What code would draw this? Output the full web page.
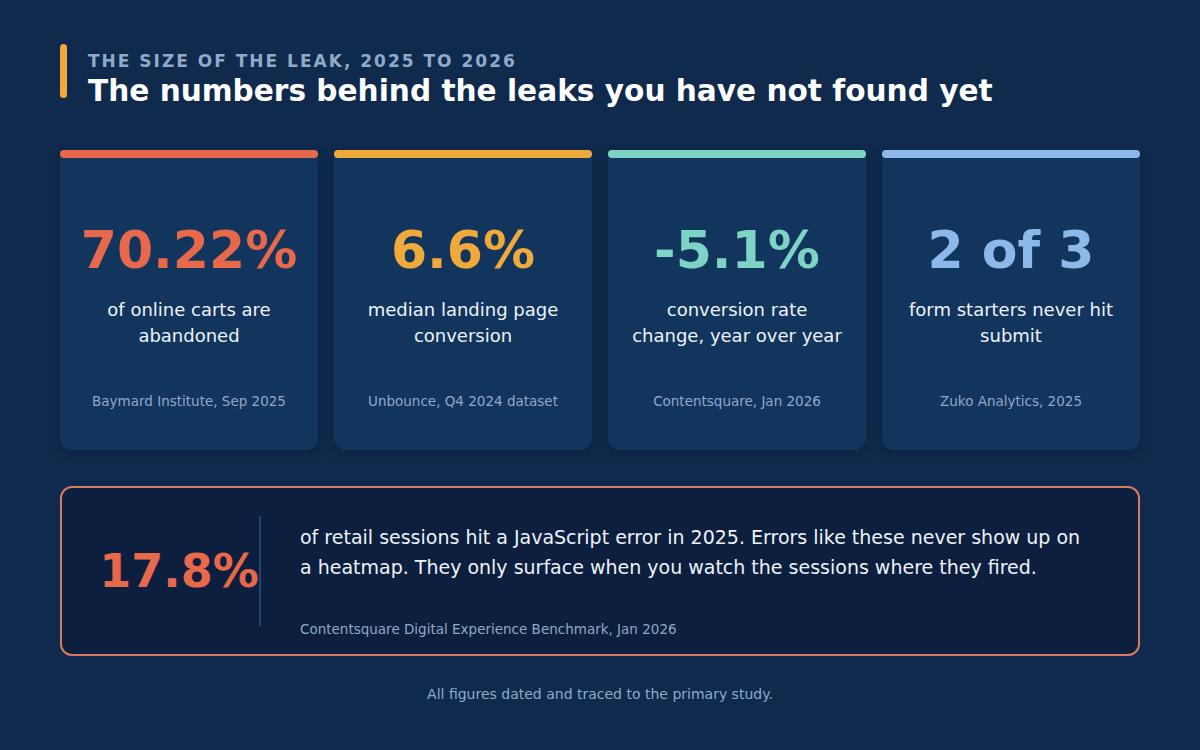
<!DOCTYPE html>
<html>
<head>
<meta charset="utf-8">
<script src="https://cdn.jsdelivr.net/npm/chart.js@4.4.1/dist/chart.umd.min.js"></script>
<style>
  html, body { margin: 0; padding: 0; }
  body {
    width: 1200px; height: 750px; overflow: hidden;
    background: #0f2a4d;
    font-family: "DejaVu Sans", sans-serif;
    color: #f2f5fa;
    position: relative;
  }
  .accent { position: absolute; left: 60px; top: 44px; width: 7px; height: 54px; border-radius: 4px; background: #f0a93b; }
  .kicker { position: absolute; left: 88px; top: 51px; font-size: 17px; font-weight: bold; letter-spacing: 2px; color: #8fa9c9; }
  .title { position: absolute; left: 88px; top: 74px; font-size: 29.6px; font-weight: bold; color: #ffffff; }
  .card {
    position: absolute; top: 150px; width: 258px; height: 300px;
    background: #12355e; border-radius: 6px 6px 12px 12px;
    box-shadow: 0 4px 14px rgba(0,0,0,.18);
  }
  .card .bar { position: absolute; left: 0; top: 0; width: 100%; height: 8px; border-radius: 4px; }
  .card .big { position: absolute; left: 0; width: 100%; top: 70px; text-align: center; font-size: 52px; font-weight: bold; }
  .card .desc { position: absolute; left: 0; width: 100%; top: 147px; text-align: center; font-size: 18px; line-height: 26px; color: #eef2f8; }
  .card .src { position: absolute; left: 0; width: 100%; top: 243px; text-align: center; font-size: 13.5px; color: #8fa9c9; }
  .callout {
    position: absolute; left: 60px; top: 486px; width: 1076px; height: 166px;
    border: 2px solid #d97a62; border-radius: 12px; background: #0c1f3e;
  }
  .callout .big { position: absolute; left: 0; width: 234px; top: 56px; text-align: center; font-size: 46px; font-weight: bold; color: #e8684b; }
  .callout .rule { position: absolute; left: 197px; top: 28px; width: 2px; height: 110px; background: #1f4673; }
  .callout .text { position: absolute; left: 238px; top: 34px; width: 840px; font-size: 19px; line-height: 30px; color: #eef2f8; }
  .callout .src { position: absolute; left: 238px; top: 133px; font-size: 13.5px; color: #8fa9c9; }
  .foot { position: absolute; left: 0; width: 1200px; top: 686px; text-align: center; font-size: 14px; color: #8fa9c9; }
  canvas#c { position: absolute; left: 0; top: 0; width: 1px; height: 1px; }
</style>
</head>
<body>
<div class="accent"></div>
<div class="kicker">THE SIZE OF THE LEAK, 2025 TO 2026</div>
<div class="title">The numbers behind the leaks you have not found yet</div>
<div id="cards"></div>
<div class="callout">
  <div class="big" id="calloutBig"></div>
  <div class="rule"></div>
  <div class="text" id="calloutText"></div>
  <div class="src" id="calloutSrc"></div>
</div>
<div class="foot">All figures dated and traced to the primary study.</div>
<canvas id="c"></canvas>
<script>
var stats = ['70.22%', '6.6%', '-5.1%', '2 of 3'];
var descriptions = [
  'of online carts are<br>abandoned',
  'median landing page<br>conversion',
  'conversion rate<br>change, year over year',
  'form starters never hit<br>submit'
];
var sources = ['Baymard Institute, Sep 2025', 'Unbounce, Q4 2024 dataset', 'Contentsquare, Jan 2026', 'Zuko Analytics, 2025'];
var colors = ['#e8684b', '#f0a93b', '#7dd3c4', '#8db8ea'];

var calloutStat = '17.8%';
var calloutText = 'of retail sessions hit a JavaScript error in 2025. Errors like these never show up on<br>a heatmap. They only surface when you watch the sessions where they fired.';
var calloutSource = 'Contentsquare Digital Experience Benchmark, Jan 2026';

var holder = document.getElementById('cards');
stats.forEach(function (s, i) {
    var card = document.createElement('div');
    card.className = 'card';
    card.style.left = (60 + i * 274) + 'px';
    card.innerHTML =
        '<div class="bar" style="background:' + colors[i] + '"></div>' +
        '<div class="big" style="color:' + colors[i] + '">' + s + '</div>' +
        '<div class="desc">' + descriptions[i] + '</div>' +
        '<div class="src">' + sources[i] + '</div>';
    holder.appendChild(card);
});
document.getElementById('calloutBig').textContent = calloutStat;
document.getElementById('calloutText').innerHTML = calloutText;
document.getElementById('calloutSrc').textContent = calloutSource;

Chart.defaults.font.family = '"DejaVu Sans", sans-serif';
</script>
</body>
</html>
